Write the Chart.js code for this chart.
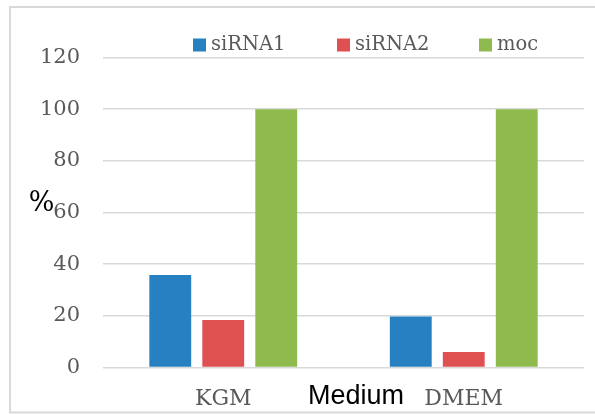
<!DOCTYPE html>
<html>
<head>
<meta charset="utf-8">
<script src="https://cdn.jsdelivr.net/npm/chart.js@4"></script>
<style>
  html, body { margin: 0; padding: 0; background: #fff; }
  #wrap { width: 595px; height: 414px; position: relative; }
</style>
</head>
<body>
<div id="wrap"><canvas id="myChart" width="595" height="414"></canvas></div>
<script>
// data
const categories = ["KGM", "DMEM"];
const seriesNames = ["siRNA1", "siRNA2", "moc"];
const siRNA1Values = [35.8, 19.7];
const siRNA2Values = [18.4, 6.0];
const mocValues = [100, 100];
const yTicks = [0, 20, 40, 60, 80, 100, 120];

const seriesColors = ["#2781C1", "#DF5150", "#8FBA4E"];
const serif = "'DejaVu Serif', serif";
const sans = "'Liberation Sans', Arial, sans-serif";
const tickGrey = "#595959";

// frame, legend and free-floating titles
const decorPlugin = {
  id: "decor",
  beforeDraw(chart) {
    const ctx = chart.ctx;
    ctx.save();
    ctx.fillStyle = "#fff";
    ctx.fillRect(0, 0, chart.width, chart.height);
    ctx.strokeStyle = "#d9d9d9";
    ctx.lineWidth = 2;
    ctx.beginPath();
    ctx.moveTo(chart.width + 5, 7);
    ctx.lineTo(10, 7);
    ctx.lineTo(10, 412.5);
    ctx.lineTo(chart.width + 5, 412.5);
    ctx.stroke();
    ctx.restore();
  },
  afterDraw(chart) {
    const ctx = chart.ctx;
    ctx.save();
    // legend
    const boxX = [193, 337, 479];
    ctx.font = "19.5px " + serif;
    ctx.textBaseline = "middle";
    ctx.textAlign = "left";
    chart.data.datasets.forEach((ds, i) => {
      ctx.fillStyle = ds.backgroundColor;
      ctx.fillRect(boxX[i], 38.5, 13, 13);
      ctx.fillStyle = tickGrey;
      ctx.fillText(ds.label, boxX[i] + 18, 45);
    });
    // axis titles
    ctx.fillStyle = "#000";
    ctx.font = "27px " + sans;
    ctx.textAlign = "center";
    ctx.fillText("Medium", 356, 397);
    ctx.font = "27px " + serif;
    ctx.fillText("%", 41.5, 204);
    ctx.restore();
  },
};

function drawChart() {
  const ctx = document.getElementById("myChart").getContext("2d");
  return new Chart(ctx, {
    type: "bar",
    data: {
      labels: categories,
      datasets: [
        { label: seriesNames[0], data: siRNA1Values, backgroundColor: seriesColors[0] },
        { label: seriesNames[1], data: siRNA2Values, backgroundColor: seriesColors[1] },
        { label: seriesNames[2], data: mocValues, backgroundColor: seriesColors[2] },
      ],
    },
    options: {
      responsive: false,
      animation: false,
      devicePixelRatio: 1,
      layout: { padding: { top: 57.5, right: 11, bottom: 6.5, left: 0 } },
      datasets: {
        bar: { categoryPercentage: 0.661, barPercentage: 0.79 },
      },
      plugins: {
        legend: { display: false },
        tooltip: { enabled: false },
      },
      scales: {
        x: {
          grid: { display: false },
          border: { display: false },
          ticks: {
            color: tickGrey,
            font: { family: serif, size: 22 },
            padding: 11,
          },
          afterFit: (axis) => { axis.height = 40; },
        },
        y: {
          min: 0,
          max: 120,
          afterBuildTicks: (axis) => { axis.ticks = yTicks.map((v) => ({ value: v })); },
          grid: { color: "#d9d9d9", lineWidth: 1.5, drawTicks: false },
          border: { display: false },
          ticks: {
            color: tickGrey,
            font: { family: serif, size: 21 },
            padding: 23,
          },
          afterFit: (axis) => { axis.width = 103; },
        },
      },
    },
    plugins: [decorPlugin],
  });
}

// make sure the local fonts are ready before the first paint
Promise.all([
  document.fonts.load("21px 'DejaVu Serif'"),
  document.fonts.load("27px 'Liberation Sans'"),
]).catch(() => {}).then(drawChart);
</script>
</body>
</html>
